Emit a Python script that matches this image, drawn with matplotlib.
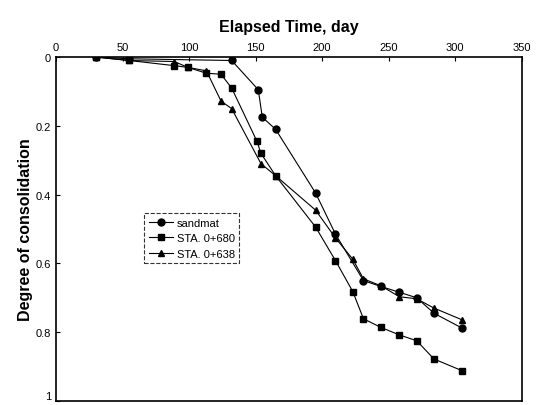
import matplotlib
matplotlib.use("Agg")
import matplotlib.pyplot as plt

plt.rcParams['font.family'] = ['Liberation Sans', 'DejaVu Sans']

# sandmat (circles)
sand_t = [30, 55, 132, 152, 155, 165, 195, 210, 231, 244, 258, 271, 284, 305]
sand_u = [0.0, 0.005, 0.01, 0.095, 0.175, 0.21, 0.395, 0.515, 0.65, 0.667, 0.684, 0.70, 0.745, 0.788]

# STA. 0+680 (squares)
s680_t = [30, 55, 89, 99, 113, 124, 132, 151, 154, 165, 195, 210, 223, 231, 244, 258, 271, 284, 305]
s680_u = [0.0, 0.01, 0.025, 0.03, 0.047, 0.05, 0.09, 0.245, 0.28, 0.345, 0.494, 0.592, 0.682,
          0.761, 0.786, 0.808, 0.825, 0.878, 0.912]

# STA. 0+638 (triangles)
s638_t = [30, 55, 89, 99, 113, 124, 132, 154, 165, 195, 210, 223, 231, 244, 258, 271, 284, 305]
s638_u = [0.0, 0.01, 0.013, 0.03, 0.04, 0.128, 0.15, 0.31, 0.345, 0.445, 0.526, 0.588, 0.645,
          0.665, 0.697, 0.703, 0.73, 0.764]

fig = plt.figure(figsize=(5.38, 4.06), dpi=100)
ax = fig.add_axes([0.104, 0.0100, 0.866, 0.847])

ax.plot(sand_t, sand_u, color='black', lw=0.8, marker='o', ms=5, label='sandmat')
ax.plot(s680_t, s680_u, color='black', lw=0.8, marker='s', ms=5, label='STA. 0+680')
ax.plot(s638_t, s638_u, color='black', lw=0.8, marker='^', ms=5, label='STA. 0+638')

ax.set_xlim(0, 350)
ax.set_ylim(1, 0)
ax.set_xticks(range(0, 351, 50))
ax.set_yticks([0, 0.2, 0.4, 0.6, 0.8, 1])
ax.set_yticklabels(['0', '0.2', '0.4', '0.6', '0.8', '1'])
ax.get_yticklabels()[-1].set_verticalalignment('bottom')
ax.xaxis.tick_top()
ax.xaxis.set_label_position('top')
ax.tick_params(direction='in', length=3, labelsize=8, width=0.8)
ax.set_xlabel('Elapsed Time, day', fontsize=11.5, fontweight='bold', labelpad=8)
ax.set_ylabel('Degree of consolidation', fontsize=11.5, fontweight='bold', labelpad=2)
for s in ax.spines.values():
    s.set_linewidth(1.2)

leg = ax.legend(loc='upper left', bbox_to_anchor=(0.178, 0.562), fontsize=8,
                frameon=True, fancybox=False, edgecolor='black', handlelength=2.2,
                borderpad=0.4, labelspacing=0.5, handletextpad=0.3)
leg.get_frame().set_linewidth(0.8)
leg.get_frame().set_linestyle('--')

fig.savefig('out.png', dpi=100)
